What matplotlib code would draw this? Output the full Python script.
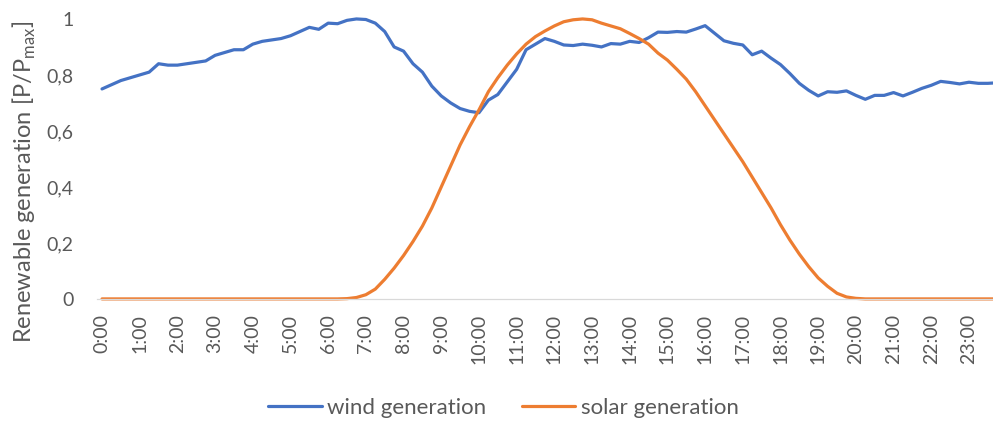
import matplotlib
matplotlib.use("Agg")
import matplotlib.pyplot as plt

plt.rcParams['font.family'] = ['Lato', 'DejaVu Sans']

# quarter-hour steps over one day
times = [f"{h}:{m:02d}" for h in range(24) for m in (0, 15, 30, 45)]

wind = [0.75, 0.765, 0.78, 0.79, 0.80, 0.81, 0.84, 0.835, 0.835, 0.84, 0.845, 0.85,
        0.87, 0.88, 0.89, 0.89, 0.91, 0.92, 0.925, 0.93, 0.94, 0.955, 0.97, 0.963,
        0.985, 0.983, 0.995, 1.0, 0.998, 0.985, 0.955, 0.90, 0.885, 0.84, 0.81, 0.76,
        0.725, 0.70, 0.68, 0.67, 0.665, 0.71, 0.73, 0.775, 0.82, 0.89, 0.91, 0.93,
        0.92, 0.907, 0.905, 0.91, 0.906, 0.90, 0.912, 0.91, 0.92, 0.916, 0.933, 0.953,
        0.952, 0.955, 0.953, 0.964, 0.976, 0.949, 0.922, 0.913, 0.907, 0.872, 0.885, 0.86,
        0.837, 0.805, 0.77, 0.745, 0.725, 0.74, 0.738, 0.743, 0.727, 0.713, 0.727, 0.727,
        0.737, 0.725, 0.738, 0.752, 0.763, 0.777, 0.773, 0.768, 0.774, 0.77, 0.77, 0.772]

solar = [0.0] * 26 + [
    0.001, 0.005, 0.015, 0.035, 0.07, 0.11, 0.155, 0.205, 0.26, 0.325,
    0.40, 0.475, 0.55, 0.615, 0.675, 0.74, 0.79, 0.835, 0.875, 0.91,
    0.937, 0.957, 0.975, 0.99, 0.997, 1.0, 0.997, 0.985, 0.975, 0.965,
    0.948, 0.93, 0.91, 0.878, 0.853, 0.82, 0.785, 0.74, 0.69, 0.64,
    0.59, 0.54, 0.49, 0.435, 0.38, 0.325, 0.265, 0.21, 0.16, 0.115,
    0.075, 0.045, 0.02, 0.007, 0.002] + [0.0] * 15

y_ticks = [0, 0.2, 0.4, 0.6, 0.8, 1.0]
y_tick_labels = ["0", "0,2", "0,4", "0,6", "0,8", "1"]

grey = "#595959"

fig = plt.figure(figsize=(9.93, 4.21), dpi=100)
ax = fig.add_axes([0.098, 0.29, 0.911, 0.665])

x = list(range(len(times)))
ax.plot(x, wind, color="#4472C4", lw=2.3, label="wind generation",
        clip_on=False, solid_joinstyle="round", solid_capstyle="round")
ax.plot(x, solar, color="#ED7D31", lw=2.3, label="solar generation",
        clip_on=False, solid_joinstyle="round", solid_capstyle="round")

ax.set_xlim(-0.5, len(times) - 0.5)
ax.set_ylim(0, 1)

ax.set_xticks(x[::4])
ax.set_xticklabels(times[::4], rotation=90, fontsize=14, color=grey)
ax.set_yticks(y_ticks)
ax.set_yticklabels(y_tick_labels, fontsize=14, color=grey)
ax.tick_params(axis="x", length=0, pad=11)
ax.tick_params(axis="y", length=0, pad=17)

for side in ("top", "right", "left"):
    ax.spines[side].set_visible(False)
ax.spines["bottom"].set_color("#D9D9D9")
ax.spines["bottom"].set_linewidth(0.9)

ax.set_ylabel(r"Renewable generation [P/P$_{\mathregular{max}}$]",
              fontsize=17, color=grey)
ax.yaxis.label.set_va("center")
ax.yaxis.set_label_coords(-0.081, 0.42)

fig.legend(loc="center", bbox_to_anchor=(0.507, 0.031), ncol=2, frameon=False,
           fontsize=16, labelcolor=grey, handlelength=2.4, handletextpad=0.25,
           columnspacing=1.6)

fig.savefig("out.png", dpi=100)
